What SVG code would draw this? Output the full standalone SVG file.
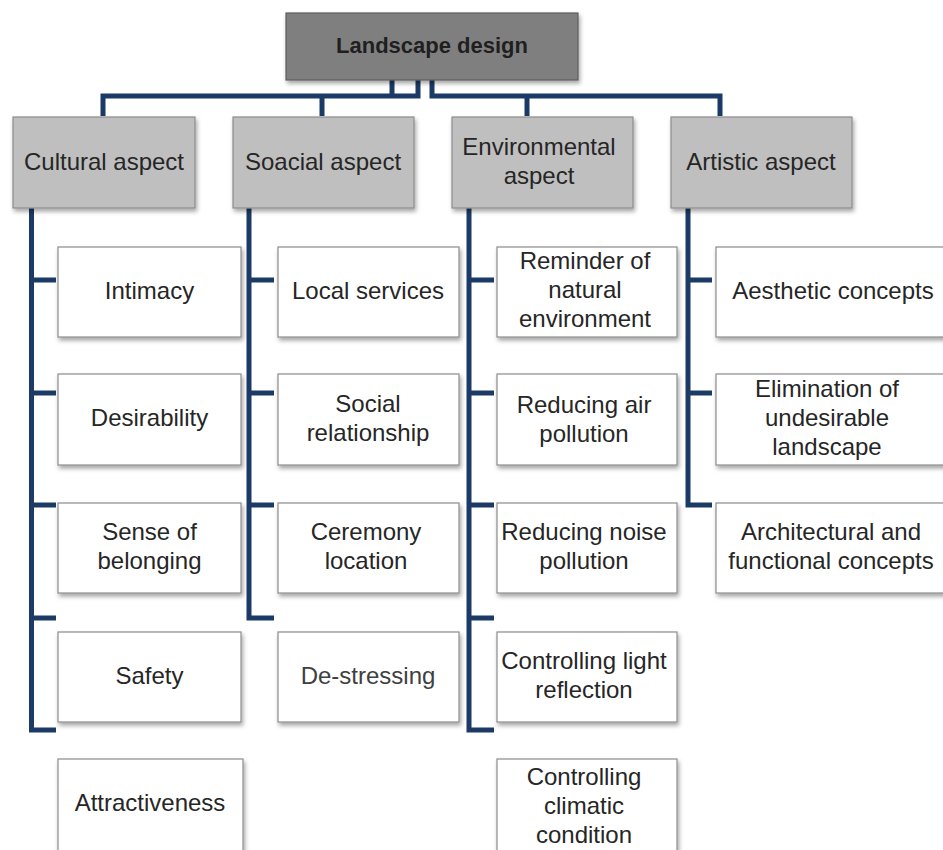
<svg xmlns="http://www.w3.org/2000/svg" width="943" height="850" viewBox="0 0 943 850">
<defs>
<filter id="sh" x="-10%" y="-10%" width="130%" height="140%">
<feDropShadow dx="1.5" dy="3" stdDeviation="2" flood-color="#000" flood-opacity="0.35"/>
</filter>
<style>
.root{fill:#7f7f7f;stroke:#5e5e5e;stroke-width:1.2;filter:url(#sh)}
.cat{fill:#bfbfbf;stroke:#8c8c8c;stroke-width:1.2;filter:url(#sh)}
.leaf{fill:#ffffff;stroke:#8c8c8c;stroke-width:1.2;filter:url(#sh)}
text{font-family:"Liberation Sans",Arial,sans-serif;font-size:24px;fill:#262626;text-anchor:middle}
.rt{font-weight:bold;font-size:22px;fill:#1f1f1f}
.con{fill:none;stroke:#1b3a66;stroke-width:5;stroke-linejoin:miter}
</style>
</defs>
<rect width="943" height="850" fill="#ffffff"/>
<g id="connectors">
<path class="con" d="M103,116 V96 H418 V80 M392,80 V96 M322,96 V116"/>
<path class="con" d="M432,80 V96 H720 V116 M527,96 V116"/>
<path class="con" d="M31.5,208 V730 H56 M31.5,280 H56 M31.5,393 H56 M31.5,505 H56 M31.5,618 H56"/>
<path class="con" d="M249,208 V618 H274 M249,280 H274 M249,393 H274 M249,505 H274"/>
<path class="con" d="M469,208 V730 H494 M469,280 H494 M469,393 H494 M469,505 H494 M469,618 H494"/>
<path class="con" d="M688,208 V505 H712 M688,280 H712 M688,393 H712"/>
</g>
<g id="root"><rect class="root" x="286" y="13" width="292" height="67"/><text class="rt" x="432" y="53">Landscape design</text></g>
<g id="cultural"><rect class="cat" x="13" y="117" width="182" height="91"/><text x="104" y="170">Cultural aspect</text></g>
<g id="social"><rect class="cat" x="233" y="117" width="181" height="91"/><text x="323" y="170">Soacial aspect</text></g>
<g id="environmental"><rect class="cat" x="452" y="117" width="181" height="91"/><text x="539" y="155">Environmental</text><text x="539" y="184">aspect</text></g>
<g id="artistic"><rect class="cat" x="671" y="117" width="181" height="91"/><text x="761" y="170">Artistic aspect</text></g>

<g id="intimacy"><rect class="leaf" x="58" y="247" width="183" height="90"/><text x="149.5" y="299">Intimacy</text></g>
<g id="desirability"><rect class="leaf" x="58" y="374" width="183" height="91"/><text x="149.5" y="426">Desirability</text></g>
<g id="belonging"><rect class="leaf" x="58" y="503" width="183" height="90"/><text x="149.5" y="540">Sense of</text><text x="149.5" y="569">belonging</text></g>
<g id="safety"><rect class="leaf" x="58" y="632" width="183" height="90"/><text x="149.5" y="684">Safety</text></g>
<g id="attractiveness"><rect class="leaf" x="58" y="759" width="185" height="94"/><text x="150" y="811">Attractiveness</text></g>

<g id="local"><rect class="leaf" x="278" y="247" width="181" height="90"/><text x="368" y="299">Local services</text></g>
<g id="relationship"><rect class="leaf" x="278" y="374" width="181" height="91"/><text x="368" y="412">Social</text><text x="368" y="441">relationship</text></g>
<g id="ceremony"><rect class="leaf" x="278" y="503" width="181" height="90"/><text x="366" y="540">Ceremony</text><text x="366" y="569">location</text></g>
<g id="destressing"><rect class="leaf" x="278" y="632" width="181" height="90"/><text x="368" y="684" style="fill:#404040">De-stressing</text></g>

<g id="reminder"><rect class="leaf" x="497" y="247" width="180" height="90"/><text x="585" y="269">Reminder of</text><text x="585" y="298">natural</text><text x="585" y="327">environment</text></g>
<g id="air"><rect class="leaf" x="497" y="374" width="180" height="91"/><text x="584" y="413">Reducing air</text><text x="584" y="442">pollution</text></g>
<g id="noise"><rect class="leaf" x="497" y="503" width="180" height="90"/><text x="584" y="540">Reducing noise</text><text x="584" y="569">pollution</text></g>
<g id="light"><rect class="leaf" x="497" y="632" width="180" height="90"/><text x="584" y="669">Controlling light</text><text x="584" y="698">reflection</text></g>
<g id="climatic"><rect class="leaf" x="497" y="759" width="180" height="94"/><text x="584" y="785">Controlling</text><text x="584" y="814">climatic</text><text x="584" y="843">condition</text></g>

<g id="aesthetic"><rect class="leaf" x="716" y="247" width="235" height="90"/><text x="833" y="299">Aesthetic concepts</text></g>
<g id="elimination"><rect class="leaf" x="716" y="374" width="235" height="91"/><text x="827" y="397">Elimination of</text><text x="827" y="426">undesirable</text><text x="827" y="455">landscape</text></g>
<g id="architectural"><rect class="leaf" x="716" y="503" width="235" height="90"/><text x="831" y="540">Architectural and</text><text x="831" y="569">functional concepts</text></g>
</svg>
